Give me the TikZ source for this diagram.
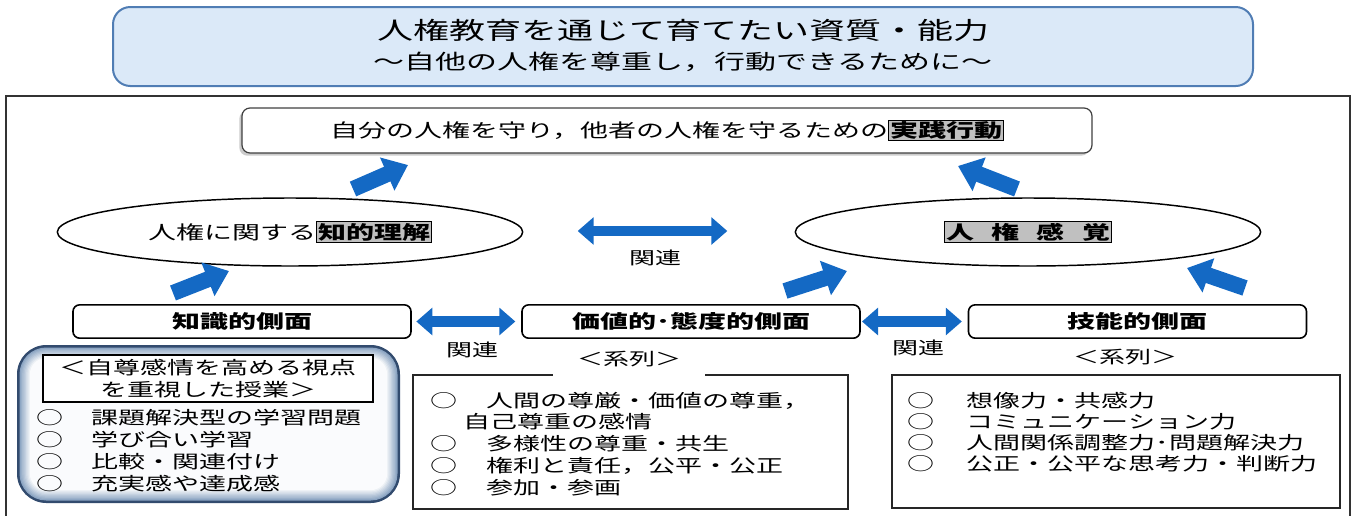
\documentclass[tikz,border=0pt]{standalone}
\usepackage{fontspec}
\setmainfont{Noto Sans CJK JP}[FakeStretch=1.5]
\usetikzlibrary{arrows.meta,shapes.geometric,shadows}
\definecolor{arrowblue}{RGB}{20,105,196}
\definecolor{titlefill}{RGB}{219,233,248}
\definecolor{titledraw}{RGB}{80,125,180}
\definecolor{hlgray}{RGB}{192,192,192}
\definecolor{lbdark}{RGB}{50,75,110}
\definecolor{lbmid}{RGB}{140,165,195}
\newcommand{\hlbox}[1]{{\setlength{\fboxsep}{0.5pt}\setlength{\fboxrule}{0.8pt}\fcolorbox{black}{hlgray}{\bfseries #1}}}
\begin{document}
\begin{tikzpicture}[x=0.75pt,y=-0.75pt,
  every node/.style={inner sep=0pt, outer sep=0pt},
  titlebox/.style={draw=titledraw, line width=1.5pt, fill=titlefill, rounded corners=13pt, minimum width=855pt, minimum height=59.25pt},
  practbox/.style={draw=black!75, line width=0.9pt, fill=white, rounded corners=6pt, minimum width=637.5pt, minimum height=33.75pt, font=\fontsize{14}{16}\selectfont, drop shadow={shadow xshift=-2pt, shadow yshift=-2pt, fill=black!40}},
  ovalnode/.style={ellipse, draw=black, line width=1.1pt, fill=white, minimum width=349pt, minimum height=51pt, font=\fontsize{14}{16}\selectfont},
  aspectbox/.style={draw=black, line width=1.2pt, fill=white, rounded corners=5pt, minimum width=253.5pt, minimum height=25pt, font=\fontsize{14}{16}\selectfont\bfseries},
  listbox/.style={draw=black!85, line width=1pt, fill=white},
  listtext/.style={anchor=north west, align=left},
  lbl/.style={font=\fontsize{13}{15}\selectfont},
  upar/.style={draw=arrowblue, line width=12pt, -{Triangle[width=26pt,length=17pt,fill=arrowblue]}},
  duo/.style={draw=arrowblue, line width=8pt, {Triangle[width=20pt,length=12pt,fill=arrowblue]}-{Triangle[width=20pt,length=12pt,fill=arrowblue]}}
]
\useasboundingbox (0,0) rectangle (1357,515);

% title
\node[titlebox] (title) at (683,46.5) {};
\node[font=\fontsize{18}{20}\selectfont] (title1) at (683,30) {人権教育を通じて育てたい資質・能力};
\node[font=\fontsize{15.5}{18}\selectfont] (title2) at (683,62) {～自他の人権を尊重し，行動できるために～};

% outer frame
\draw[line width=1.2pt, black!80] (6,530) -- (6,96) -- (1350,96) -- (1350,530);

% practice box
\node[practbox] (practice) at (667,130.5) {自分の人権を守り，他者の人権を守るための\hlbox{実践行動}};

% ellipses
\node[ovalnode] (know) at (290,232) {人権に関する\hlbox{知的理解}};
\node[ovalnode] (sense) at (1028,232) {\hlbox{人\hspace{13pt}権\hspace{13pt}感\hspace{13pt}覚}};

% aspect boxes
\node[aspectbox] (kn) at (242,321.5) {知識的側面};
\node[aspectbox] (val) at (691,321.5) {価値的･態度的側面};
\node[aspectbox] (sk) at (1137.5,321.5) {技能的側面};

% up arrows
\coordinate (a1s) at (353,189); \coordinate (a1e) at (408,165);
\coordinate (a2s) at (1017,189); \coordinate (a2e) at (958,166);
\coordinate (a3s) at (173,293); \coordinate (a3e) at (229,271);
\coordinate (a4s) at (785,291); \coordinate (a4e) at (847,271);
\coordinate (a5s) at (1245,288); \coordinate (a5e) at (1187,268);
\draw[upar] (a1s) -- (a1e);
\draw[upar] (a2s) -- (a2e);
\draw[upar] (a3s) -- (a3e);
\draw[upar] (a4s) -- (a4e);
\draw[upar] (a5s) -- (a5e);

% double arrows
\draw[duo] ([xshift=41.25pt,yshift=0.75pt]know.east) -- ([xshift=-51pt,yshift=0.75pt]sense.west);
\draw[duo] ([xshift=4pt]kn.east) -- ([xshift=-5pt]val.west);
\draw[duo] ([xshift=1.5pt]val.east) -- ([xshift=-5pt]sk.west);
\node[lbl] (rel1) at (655,258) {関連};
\node[lbl] (rel2) at (472,350) {関連};
\node[lbl] (rel3) at (918,348) {関連};

% left box with soft blue rim
\fill[lbdark, rounded corners=22pt] (17,345) rectangle (400,503);
\foreach \i in {0,...,8} {
  \pgfmathsetmacro{\ins}{2.5+\i*1.3}
  \pgfmathsetmacro{\pc}{100-\i*12}
  \fill[lbmid!\pc!white, rounded corners=22pt-\ins*0.75pt] (17+\ins,345+\ins) rectangle (400-\ins,503-\ins);
}
\node[draw=black, line width=2pt, fill=white, minimum width=247.5pt, minimum height=35.25pt, align=center, font=\fontsize{13.5}{16.5}\selectfont] (lhead) at (208,378.5) {＜自尊感情を高める視点\\を重視した授業＞};
\node[listtext, font=\fontsize{13.5}{16.5}\selectfont] (lefttxt) at (36.5,409) {\makebox[41.6pt][l]{○}課題解決型の学習問題\\\makebox[41.6pt][l]{○}学び合い学習\\\makebox[41.6pt][l]{○}比較・関連付け\\\makebox[41.6pt][l]{○}充実感や達成感};

% middle list
\node[listbox, minimum width=326.25pt, minimum height=100.5pt] (midlist) at (630.5,442) {};
\node[lbl, fill=white, minimum width=114pt, minimum height=27pt] (ser1) at (629,359) {＜系列＞};
\node[listtext, font=\fontsize{13.5}{16.3}\selectfont] (midtxt) at (430,392) {\makebox[42pt][l]{○}人間の尊厳・価値の尊重，\\\hspace*{24.8pt}自己尊重の感情\\\makebox[42pt][l]{○}多様性の尊重・共生\\\makebox[42pt][l]{○}権利と責任，公平・公正\\\makebox[42pt][l]{○}参加・参画};

% right list
\node[listbox, minimum width=336pt, minimum height=99.75pt] (rightlist) at (1116,441.5) {};
\node[lbl] (ser2) at (1125,357) {＜系列＞};
\node[listtext, font=\fontsize{13.5}{15.75}\selectfont] (righttxt) at (907.5,392) {\makebox[44.6pt][l]{○}想像力・共感力\\\makebox[44.6pt][l]{○}コミュニケーション力\\\makebox[44.6pt][l]{○}人間関係調整力･問題解決力\\\makebox[44.6pt][l]{○}公正・公平な思考力・判断力};
\end{tikzpicture}
\end{document}
